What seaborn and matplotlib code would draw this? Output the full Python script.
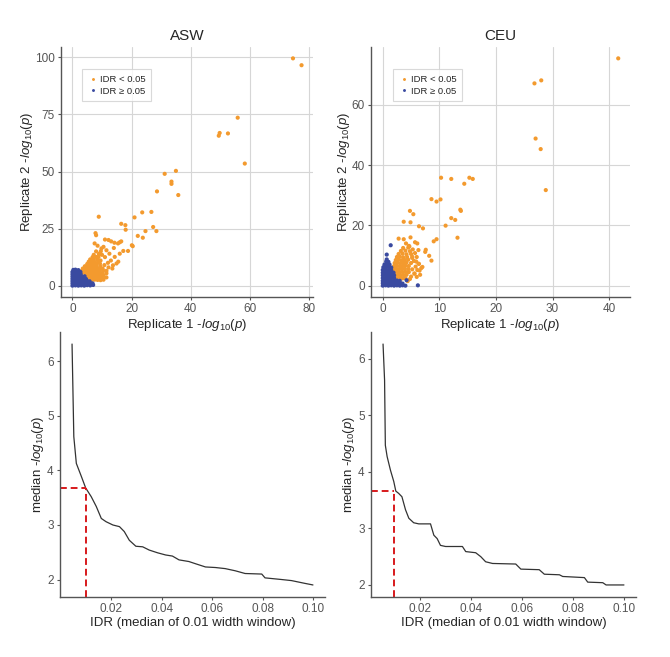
import numpy as np
import pandas as pd
import matplotlib
matplotlib.use("Agg")
import matplotlib.pyplot as plt
import seaborn as sns
from matplotlib.ticker import FormatStrFormatter

sns.set_theme(style="white")
plt.rcParams['font.family'] = ['Liberation Sans', 'DejaVu Sans']
plt.rcParams['mathtext.fontset'] = 'custom'
plt.rcParams['mathtext.rm'] = 'Liberation Sans'
plt.rcParams['mathtext.it'] = 'Liberation Sans:italic'

# ---------------- data ----------------
populations = ["ASW", "CEU"]
legend_labels = ["IDR < 0.05", "IDR \u2265 0.05"]

asw_sig_x = [74.6, 77.5, 55.9, 49.8, 49.5, 52.6, 58.3, 31.2, 35.0, 33.5, 33.5, 35.8, 28.6, 26.7, 23.6,
             21.0, 8.9, 16.5, 17.9, 18.0, 27.3, 28.4, 24.7, 22.1, 23.8, 7.8, 8.0, 20.4, 11.0, 12.2,
             13.1, 14.2, 15.4, 16.0, 17.2, 18.8, 14.3, 14.9, 13.7, 9.8, 16.5, 20.1,
             10.5, 11.5, 12.5, 13.0, 12.0, 11.0, 10.0, 9.0, 9.5, 10.8, 12.2, 11.5, 13.5, 15.5, 16.0,
             14.0, 8.5, 7.5, 8.8, 10.2,
             5.5, 6.5, 7.5, 8.5, 9.5, 10.5,
             4.6, 5.5, 6.5, 7.5, 8.5, 9.5, 10.5, 11.5,
             4.5, 5.5, 6.5, 7.5, 8.5, 9.5, 10.5,
             3.2, 4.2, 5.2, 6.2, 7.2, 8.2, 9.2, 10.2, 11.5,
             3.2, 4.2, 5.2, 6.2, 7.2, 8.2, 9.2, 10.4,
             3.5, 4.5, 5.5, 6.5, 7.5, 8.5, 9.5,
             4.2, 5.2, 6.2, 7.2, 8.2, 9.4,
             5.0, 6.0, 7.0, 8.0, 9.3,
             5.5, 6.5, 7.5, 8.7,
             6.0, 7.2, 8.4,
             6.8, 8.0, 7.2, 9.0, 8.0, 9.6]
asw_sig_y = [99.6, 96.6, 73.6, 66.9, 65.7, 66.7, 53.5, 49.0, 50.3, 45.6, 44.6, 39.7, 41.3, 32.3, 32.1,
             29.9, 30.2, 27.1, 26.5, 24.5, 25.7, 23.9, 23.9, 21.8, 21.0, 23.0, 22.1, 17.3, 20.2, 20.0,
             19.4, 18.8, 18.5, 19.0, 15.2, 15.2, 12.6, 9.7, 8.9, 16.3, 19.4, 17.7,
             17.0, 15.5, 14.0, 11.0, 10.0, 12.5, 13.5, 14.0, 11.0, 9.0, 8.0, 6.5, 7.5, 10.5, 14.0,
             16.5, 17.5, 18.5, 12.5, 7.5,
             2.5, 2.4, 2.6, 2.5, 2.4, 2.6,
             3.5, 3.6, 3.4, 3.5, 3.6, 3.4, 3.5, 3.6,
             4.5, 4.6, 4.4, 4.5, 4.6, 4.4, 4.5,
             5.5, 5.6, 5.4, 5.5, 5.6, 5.4, 5.5, 5.6, 5.4,
             6.5, 6.6, 6.4, 6.5, 6.6, 6.4, 6.5, 6.6,
             7.5, 7.6, 7.4, 7.5, 7.6, 7.4, 7.5,
             8.5, 8.6, 8.4, 8.5, 8.6, 8.4,
             9.5, 9.6, 9.4, 9.5, 9.6,
             10.5, 10.6, 10.4, 10.5,
             11.5, 11.6, 11.4,
             12.5, 12.6, 13.5, 13.6, 15.0, 15.1]

asw_ns_x = [0.0, 1.0, 2.0, 3.0, 4.0, 5.0, 6.0, 7.0,
            0.0, 1.0, 2.0, 3.0, 4.0, 5.0, 6.0, 6.8,
            0.0, 1.0, 2.0, 3.0, 4.0, 5.0, 5.8,
            0.0, 1.0, 2.0, 3.0, 4.0, 4.6,
            0.0, 1.0, 2.0, 3.0, 4.1,
            0.0, 1.0, 2.0, 2.8,
            0.0, 1.0, 2.0, 2.7,
            0.3, 1.0, 2.0]
asw_ns_y = [0.0, 0.1, 0.0, 0.1, 0.0, 0.2, 0.1, 0.3,
            1.0, 1.1, 0.9, 1.0, 1.2, 1.0, 1.1, 1.0,
            2.0, 2.1, 1.9, 2.0, 2.1, 2.0, 1.9,
            3.0, 3.1, 2.9, 3.0, 3.1, 2.9,
            4.0, 4.1, 3.9, 4.0, 4.1,
            5.0, 5.1, 4.9, 5.0,
            6.0, 6.1, 5.9, 6.0,
            6.9, 7.0, 6.8]

ceu_sig_x = [41.6, 26.8, 28.0, 27.0, 27.9, 28.8, 10.3, 12.1, 15.3, 15.9, 14.4, 8.6, 10.2, 9.5,
             13.7, 13.8, 4.8, 5.4, 12.1, 12.8, 3.7, 4.9, 11.1, 6.4, 7.1, 13.2, 9.5, 9.0, 4.9, 3.7,
             2.8, 4.1, 5.7, 6.1, 8.2, 7.5, 6.3, 7.0, 6.0, 6.3, 8.6, 7.6, 5.2, 4.7,
             2.5, 3.0, 3.5, 4.0, 2.2, 2.7, 3.2, 3.7, 4.2, 2.0, 2.5, 3.0, 3.5, 4.0, 4.6,
             1.9, 2.4, 2.9, 3.4, 3.9, 4.5, 5.2, 2.0, 2.5, 3.0, 3.5, 4.0, 4.6,
             2.1, 2.6, 3.1, 3.6, 4.2, 5.0, 2.3, 2.8, 3.3, 3.9, 4.5,
             2.5, 3.0, 3.6, 4.3, 5.2, 2.8, 3.5, 4.2, 5.0, 3.2, 4.0, 4.8, 3.6, 4.5,
             5.6, 5.9, 6.5, 4.4, 3.0,
             5.0, 5.6, 6.1, 5.8, 6.4, 5.5, 6.0, 5.7, 6.6, 4.8, 5.3, 4.6, 6.8]
ceu_sig_y = [75.4, 67.1, 68.1, 48.8, 45.3, 31.7, 35.8, 35.4, 35.8, 35.4, 33.8, 28.7, 28.6, 27.9,
             25.2, 24.8, 24.8, 23.7, 22.4, 21.8, 21.2, 21.0, 19.9, 19.7, 19.0, 15.9, 15.4, 14.7,
             16.0, 15.4, 15.6, 14.0, 14.4, 14.0, 9.9, 11.2, 11.8, 6.2, 2.9, 7.3, 8.3, 11.9, 9.2, 13.0,
             2.5, 2.6, 2.4, 2.5, 3.5, 3.6, 3.4, 3.5, 3.6, 4.5, 4.6, 4.4, 4.5, 4.6, 4.5,
             5.5, 5.6, 5.4, 5.5, 5.6, 5.5, 5.4, 6.5, 6.6, 6.4, 6.5, 6.6, 6.5,
             7.5, 7.6, 7.4, 7.5, 7.6, 7.5, 8.5, 8.6, 8.4, 8.5, 8.6,
             9.5, 9.6, 9.4, 9.5, 9.6, 10.5, 10.6, 10.4, 10.5, 11.5, 11.6, 11.4, 12.5, 12.6,
             4.0, 8.0, 5.0, 1.5, 1.2,
             3.0, 4.0, 5.2, 6.3, 7.2, 8.2, 9.5, 10.8, 3.6, 2.2, 12.0, 13.2, 5.8]

ceu_ns_x = [0.0, 0.5, 1.0, 1.5, 2.0, 2.5, 3.0, 3.5, 4.0,
            0.0, 0.5, 1.0, 1.5, 2.0, 2.5, 3.0, 3.5,
            0.0, 0.5, 1.0, 1.5, 2.0, 2.5, 3.0,
            0.0, 0.5, 1.0, 1.5, 2.0,
            0.0, 0.5, 1.0, 1.5, 2.0,
            0.0, 0.5, 1.0, 1.5, 1.9,
            0.0, 0.5, 1.0, 1.5,
            0.1, 0.6, 1.1, 1.5,
            0.3, 0.8, 1.2,
            0.6, 1.0,
            1.4, 0.7, 6.2, 4.2, 0.7]
ceu_ns_y = [0.0, 0.1, 0.0, 0.1, 0.0, 0.1, 0.0, 0.1, 0.0,
            0.8, 0.9, 0.8, 0.7, 0.8, 0.9, 0.8, 0.7,
            1.6, 1.7, 1.6, 1.5, 1.6, 1.7, 1.6,
            2.5, 2.6, 2.5, 2.4, 2.5,
            3.4, 3.5, 3.4, 3.3, 3.4,
            4.3, 4.4, 4.3, 4.2, 4.3,
            5.2, 5.3, 5.2, 5.1,
            6.1, 6.2, 6.1, 6.0,
            7.0, 7.1, 7.0,
            8.0, 7.9,
            13.4, 10.3, 0.1, 1.8, 8.7]

asw_idr = [0.0045, 0.0052, 0.0062, 0.0082, 0.0099, 0.0121, 0.0141, 0.0161, 0.0180, 0.0207, 0.0233,
           0.0252, 0.0272, 0.0298, 0.0325, 0.0351, 0.0384, 0.0416, 0.0443, 0.0469, 0.0508, 0.0534,
           0.0574, 0.0613, 0.0652, 0.0692, 0.0731, 0.0797, 0.0810, 0.0875, 0.0915, 0.0967, 0.1000]
asw_med = [6.32, 4.62, 4.13, 3.89, 3.68, 3.52, 3.34, 3.12, 3.06, 3.00, 2.97,
           2.88, 2.72, 2.61, 2.60, 2.54, 2.49, 2.45, 2.43, 2.36, 2.33, 2.29,
           2.23, 2.22, 2.20, 2.16, 2.11, 2.10, 2.03, 2.00, 1.98, 1.93, 1.90]

ceu_idr = [0.0056, 0.0062, 0.0065, 0.0072, 0.0085, 0.0098, 0.0106, 0.0117, 0.0130, 0.0144, 0.0157,
           0.0176, 0.0196, 0.0242, 0.0255, 0.0268, 0.0281, 0.0301, 0.0367, 0.0380, 0.0419, 0.0439,
           0.0458, 0.0485, 0.0576, 0.0596, 0.0668, 0.0688, 0.0747, 0.0760, 0.0845, 0.0858, 0.0917,
           0.0930, 0.1000]
ceu_med = [6.26, 5.62, 4.47, 4.27, 4.03, 3.83, 3.66, 3.62, 3.56, 3.33, 3.18,
           3.10, 3.08, 3.08, 2.88, 2.82, 2.70, 2.68, 2.68, 2.59, 2.57, 2.50,
           2.41, 2.38, 2.37, 2.28, 2.27, 2.19, 2.18, 2.15, 2.13, 2.05, 2.04,
           2.00, 2.00]

idr_cutoff = [0.01, 0.01]
median_at_cutoff = [3.68, 3.66]

x_ticks_top = [[0, 20, 40, 60, 80], [0, 10, 20, 30, 40]]
y_ticks_top = [[0, 25, 50, 75, 100], [0, 20, 40, 60]]
x_ticks_bot = [0.02, 0.04, 0.06, 0.08, 0.10]
y_ticks_bot = [2, 3, 4, 5, 6]

# ---------------- figure ----------------
W, H = 670, 657
fig = plt.figure(figsize=(W / 100, H / 100), dpi=100)

def fa(l, r, t, b):
    return [l / W, 1 - b / H, (r - l) / W, (b - t) / H]

ax_tl = fig.add_axes(fa(61, 313, 47, 297))
ax_tr = fig.add_axes(fa(371, 630, 47, 297))
ax_bl = fig.add_axes(fa(60, 325, 332, 597))
ax_br = fig.add_axes(fa(371, 636, 332, 597))

orange = "#F39A2E"
blue = "#3A4AA0"
palette = {legend_labels[0]: orange, legend_labels[1]: blue}
tick_col = "#555555"
spine_col = "#555555"

scatter_sets = [
    (ax_tl, asw_sig_x, asw_sig_y, asw_ns_x, asw_ns_y),
    (ax_tr, ceu_sig_x, ceu_sig_y, ceu_ns_x, ceu_ns_y),
]
xlab_top = r"Replicate 1 -$\mathit{log}_{10}(\mathit{p})$"
ylab_top = r"Replicate 2 -$\mathit{log}_{10}(\mathit{p})$"
ylab_bot = r"median -$\mathit{log}_{10}(\mathit{p})$"
xlab_bot = "IDR (median of 0.01 width window)"
lab_fs = 9.5

def style_axes(ax):
    for s in ["top", "right"]:
        ax.spines[s].set_visible(False)
    for s in ["left", "bottom"]:
        ax.spines[s].set_color(spine_col)
        ax.spines[s].set_linewidth(1.0)
    ax.tick_params(axis="both", colors=spine_col, labelcolor=tick_col, labelsize=8.5,
                   length=2.5, width=0.8, direction="out", bottom=True, left=True, pad=2)

for i, (ax, sx, sy, nx, ny) in enumerate(scatter_sets):
    df = pd.DataFrame({
        "x": sx + nx,
        "y": sy + ny,
        "grp": [legend_labels[0]] * len(sx) + [legend_labels[1]] * len(nx),
    })
    sns.scatterplot(data=df, x="x", y="y", hue="grp", hue_order=legend_labels, palette=palette,
                    s=9, linewidth=0, ax=ax, zorder=3)
    ax.set_xticks(x_ticks_top[i])
    ax.set_yticks(y_ticks_top[i])
    ax.grid(True, color="#D6D6D6", linewidth=0.8)
    ax.set_axisbelow(True)
    style_axes(ax)
    ax.set_xlabel(xlab_top, fontsize=lab_fs, labelpad=1)
    ax.set_ylabel(ylab_top, fontsize=lab_fs, labelpad=0)
    ax.set_title(populations[i], fontsize=11, pad=5)
    leg = ax.legend(loc="upper left", bbox_to_anchor=(0.065, 0.93), fontsize=6.8, frameon=True,
                    fancybox=False, edgecolor="#D0D0D0", markerscale=0.7, handletextpad=0.1,
                    borderpad=0.6, labelspacing=0.3, handlelength=1.2, title=None)
    leg.get_frame().set_linewidth(0.8)

curve_sets = [(ax_bl, asw_idr, asw_med), (ax_br, ceu_idr, ceu_med)]
for i, (ax, xs, ys) in enumerate(curve_sets):
    sns.lineplot(x=xs, y=ys, ax=ax, color="#333333", linewidth=0.9, sort=False)
    ax.set_xticks(x_ticks_bot)
    ax.set_yticks(y_ticks_bot)
    ax.xaxis.set_major_formatter(FormatStrFormatter("%.2f"))
    ax.grid(False)
    style_axes(ax)
    x0, x1 = ax.get_xlim()
    y0, y1 = ax.get_ylim()
    ax.hlines(median_at_cutoff[i], x0, idr_cutoff[i], colors="#D7191C", linestyles=(0, (3.5, 2)), linewidth=1.4)
    ax.vlines(idr_cutoff[i], y0, median_at_cutoff[i], colors="#D7191C", linestyles=(0, (3.5, 2)), linewidth=1.4)
    ax.set_xlim(x0, x1)
    ax.set_ylim(y0, y1)
    ax.set_xlabel(xlab_bot, fontsize=lab_fs, labelpad=1)
    ax.set_ylabel(ylab_bot, fontsize=lab_fs, labelpad=1)

fig.savefig("out.png", dpi=100)
